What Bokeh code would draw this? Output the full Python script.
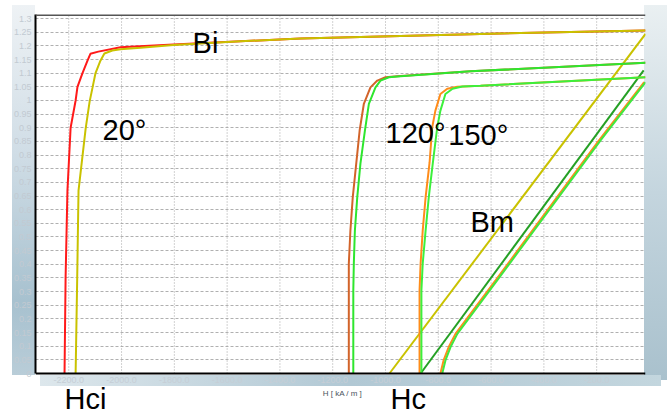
from bokeh.plotting import figure
from bokeh.models import Range1d, FixedTicker, Label, Span
from bokeh.core.properties import value
from bokeh.embed import file_html
from bokeh.resources import INLINE

# ---------------- data: H in kA/m, J / B in T ----------------
# 20 deg, intrinsic (J) curves
j20_red_h = [-2216, -2212, -2205, -2193, -2174, -2167, -2148, -2129, -2118, -2088, -2004, -1803, -1549, -1322, -640, -15]
j20_red_b = [0.0, 0.35, 0.67, 0.90, 1.00, 1.05, 1.10, 1.146, 1.171, 1.179, 1.195, 1.205, 1.217, 1.227, 1.244, 1.256]
j20_yel_h = [-2174, -2168, -2163, -2136, -2121, -2110, -2099, -2080, -2065, -2035, -2004, -1928, -1803, -1549, -1322, -640, -15]
j20_yel_b = [0.0, 0.35, 0.67, 0.897, 0.996, 1.047, 1.099, 1.146, 1.172, 1.183, 1.188, 1.193, 1.203, 1.217, 1.227, 1.244, 1.256]
# 20 deg normal (B) curve
b20_h = [-985, -15]
b20_b = [0.0, 1.244]

# 120 deg intrinsic curves
j120_org_h = [-1139, -1139, -1133, -1124, -1111, -1098, -1082, -1057, -1031, -1000, -956, -678, -15]
j120_org_b = [0.0, 0.402, 0.524, 0.646, 0.768, 0.890, 0.988, 1.048, 1.073, 1.085, 1.089, 1.107, 1.138]
j120_grn_h = [-1122, -1122, -1120, -1116, -1107, -1095, -1078, -1063, -1038, -1019, -987, -943, -678, -15]
j120_grn_b = [0.0, 0.304, 0.403, 0.524, 0.646, 0.769, 0.890, 0.988, 1.048, 1.073, 1.085, 1.089, 1.107, 1.138]
# 120 deg normal curve
b120_h = [-867, -22]
b120_b = [0.0, 1.110]

# 150 deg intrinsic curves
j150_org_h = [-871, -871, -867, -859, -848, -833, -823, -811, -792, -766, -728, -640, -15]
j150_org_b = [0.0, 0.304, 0.403, 0.524, 0.646, 0.773, 0.902, 0.963, 1.024, 1.043, 1.050, 1.054, 1.085]
j150_grn_h = [-864, -864, -859, -848, -836, -821, -804, -792, -773, -746, -709, -640, -15]
j150_grn_b = [0.0, 0.304, 0.403, 0.524, 0.646, 0.769, 0.902, 0.963, 1.024, 1.043, 1.051, 1.054, 1.085]
# 150 deg normal curves
b150_org_h = [-792, -780, -761, -735, -583, -192, -20]
b150_org_b = [0.0, 0.048, 0.096, 0.145, 0.341, 0.853, 1.067]
b150_grn_h = [-785, -773, -754, -728, -577, -186, -15]
b150_grn_b = [0.0, 0.048, 0.096, 0.145, 0.341, 0.853, 1.067]

# ticks
x_ticks = [-2200, -2000, -1800, -1600, -1400, -1200, -1000, -800, -600, -400, -200]
x_tick_labels = ["-2200.0", "-2000.0", "-1800.0", "-1600.0", "-1400.0", "-1200.0",
                 "-1000.0", "-800.0", "-600.0", "-400.0", "-200.0"]
y_ticks = [0.0, 0.05, 0.1, 0.15, 0.2, 0.25, 0.3, 0.35, 0.4, 0.45, 0.5, 0.55, 0.6, 0.65,
           0.7, 0.75, 0.8, 0.85, 0.9, 0.95, 1.0, 1.05, 1.1, 1.15, 1.2, 1.25, 1.3]
y_tick_labels = ["0", "0.05", "0.1", "0.15", "0.2", "0.25", "0.3", "0.35", "0.4", "0.45",
                 "0.5", "0.55", "0.6", "0.65", "0.7", "0.75", "0.8", "0.85", "0.9", "0.95",
                 "1", "1.05", "1.1", "1.15", "1.2", "1.25", "1.3"]
x_title = "H [ kA / m ]"

# annotations
notes = ["Bi", "20°", "120°", "150°", "Bm", "Hci", "Hc"]
note_h = [-1731, -2072, -1000, -762, -678, -2216, -981]
note_b = [1.211, 0.893, 0.880, 0.874, 0.554, -0.094, -0.094]

Y_TOP = 1.315
Y_BOTTOM = -0.1575

# ---------------- figure ----------------
p = figure(width=671, height=416, output_backend="svg", toolbar_location=None,
           x_range=Range1d(-2326, -15), y_range=Range1d(Y_BOTTOM, Y_TOP),
           min_border_left=35, min_border_right=26, min_border_top=14, min_border_bottom=0)

p.background_fill_color = None
p.border_fill_color = None
p.outline_line_color = None
p.styles = {
    "background": (
        "linear-gradient(to bottom, #eef2f5 0%, #d0dde6 40%, #a7c1cf 80%, #b9cdd8 100%) 12px 5px / 23px 370px no-repeat, "
        "linear-gradient(to right, #dde7ec 0%, #b1c8d4 50%, #c3d6de 100%) 40px 375px / 621px 11px no-repeat, "
        "linear-gradient(to bottom, #eaf0f2 0%, #c4d5de 50%, #a9c1cd 100%) 644px 5px / 23px 375px no-repeat, "
        "white"
    )
}

xt = FixedTicker(ticks=x_ticks)
yt = FixedTicker(ticks=y_ticks)

p.xaxis.visible = False

ya = p.yaxis[0]
ya.ticker = yt
ya.bounds = (0, Y_TOP)
ya.major_label_overrides = dict(zip(y_ticks, y_tick_labels))
ya.major_label_text_font = "Liberation Sans"
ya.major_label_text_font_size = "9px"
ya.major_label_text_color = "#c2cad2"
ya.major_label_standoff = 4
ya.major_tick_out = 0
ya.major_tick_in = 0
ya.minor_tick_out = 0
ya.minor_tick_in = 0
ya.axis_line_color = "black"
ya.axis_line_width = 2

p.xgrid.visible = False
p.ygrid.ticker = yt
p.ygrid.grid_line_color = "#b0b0b0"
p.ygrid.grid_line_dash = "3 2"
p.ygrid.grid_line_width = 1

# vertical dotted grid lines at the x ticks, from B = 0 to the top
p.segment(x0=x_ticks, y0=[0] * len(x_ticks), x1=x_ticks, y1=[Y_TOP] * len(x_ticks),
          line_color="#a4a4a4", line_dash="1 2", line_width=1)

# frame lines: top (grey) and bottom axis line (black)
p.add_layout(Span(location=Y_TOP, dimension="width", line_color="#555555", line_width=3))
p.add_layout(Span(location=0, dimension="width", line_color="black", line_width=2))

# x tick labels and axis title in the band below the axis
p.text(x=x_ticks, y=[-0.0256] * len(x_ticks), text=x_tick_labels,
       text_font=value("Liberation Sans"), text_font_size="9px", text_color="#c6ced6",
       text_align="center", text_baseline="middle")
p.add_layout(Label(x=-1163, y=-0.073, text=x_title, text_font="Liberation Sans",
                   text_font_size="8px", text_color="#4a545e",
                   text_align="center", text_baseline="middle"))

# ---------------- curves ----------------
lw = 2
p.line(j20_red_h, j20_red_b, line_color="#ff1a1a", line_width=lw)
p.line(j20_yel_h, j20_yel_b, line_color="#c9c200", line_width=lw)
p.line(b20_h, b20_b, line_color="#c9c200", line_width=lw)

p.line(j120_org_h, j120_org_b, line_color="#d2642a", line_width=lw)
p.line(j120_grn_h, j120_grn_b, line_color="#2ee62e", line_width=lw)
p.line(b120_h, b120_b, line_color="#25a025", line_width=lw)

p.line(j150_org_h, j150_org_b, line_color="#ff8c1a", line_width=lw)
p.line(j150_grn_h, j150_grn_b, line_color="#3cf03c", line_width=lw)
p.line(b150_org_h, b150_org_b, line_color="#ff8c1a", line_width=lw)
p.line(b150_grn_h, b150_grn_b, line_color="#40e840", line_width=lw)

for t, h, b in zip(notes, note_h, note_b):
    p.add_layout(Label(x=h, y=b, text=t, text_font="Liberation Sans",
                       text_font_size="29px", text_color="black",
                       text_baseline="alphabetic", text_align="left"))

open("out.html", "w").write(file_html(p, INLINE))
